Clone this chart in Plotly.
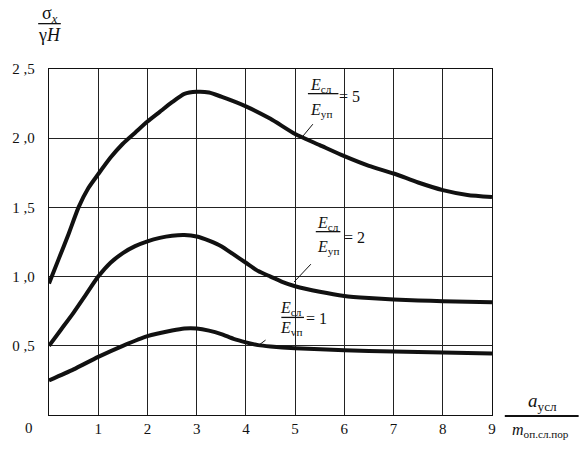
import plotly.graph_objects as go

# ---- data ----
x5 = [0, 0.2, 0.4, 0.6, 0.8, 1.0, 1.25, 1.5, 1.75, 2.0, 2.25, 2.5, 2.75, 3.0, 3.25, 3.5, 4.0, 4.5, 5.0, 5.5, 6.0, 6.5, 7.0, 7.5, 8.0, 8.5, 9.0]
y5 = [0.95, 1.13, 1.31, 1.50, 1.64, 1.74, 1.86, 1.96, 2.04, 2.12, 2.19, 2.26, 2.32, 2.335, 2.33, 2.30, 2.23, 2.14, 2.03, 1.95, 1.87, 1.80, 1.745, 1.68, 1.625, 1.59, 1.575]

x2 = [0, 0.25, 0.5, 0.75, 1.0, 1.25, 1.5, 1.75, 2.0, 2.25, 2.5, 2.75, 3.0, 3.25, 3.5, 3.75, 4.0, 4.25, 4.5, 4.75, 5.0, 5.5, 6.0, 6.5, 7.0, 7.5, 8.0, 8.5, 9.0]
y2 = [0.50, 0.62, 0.74, 0.87, 1.0, 1.10, 1.17, 1.22, 1.255, 1.28, 1.295, 1.30, 1.29, 1.26, 1.22, 1.16, 1.10, 1.04, 1.00, 0.96, 0.93, 0.89, 0.86, 0.845, 0.835, 0.828, 0.822, 0.818, 0.815]

x1 = [0, 0.5, 1.0, 1.5, 2.0, 2.5, 2.75, 3.0, 3.25, 3.5, 3.75, 4.0, 4.25, 4.5, 5.0, 6.0, 7.0, 8.0, 9.0]
y1 = [0.25, 0.33, 0.42, 0.50, 0.57, 0.61, 0.625, 0.625, 0.61, 0.585, 0.55, 0.525, 0.505, 0.495, 0.482, 0.468, 0.458, 0.452, 0.445]

x_ticks = [1, 2, 3, 4, 5, 6, 7, 8, 9]
x_ticktext = ["1", "2", "3", "4", "5", "6", "7", "8", "9"]
y_ticks = [0.5, 1.0, 1.5, 2.0, 2.5]
y_ticktext = ["0 ,5", "1 ,0", "1 ,5", "2 ,0", "2 ,5"]

ratio_labels = ["5", "2", "1"]
den_labels = ["уп", "уп", "vп"]

W, H = 585, 449
# plot area in pixels
L, R, T, B = 42, 492, 69, 420


def px(x):
    return (x - L) / (R - L)


def py(y):
    return (B - y) / (B - T)


SERIF = "'Liberation Serif', 'Times New Roman', Times, 'DejaVu Serif', serif"

fig = go.Figure()
for xs, ys in [(x5, y5), (x2, y2), (x1, y1)]:
    fig.add_trace(go.Scatter(x=xs, y=ys, mode="lines",
                             line=dict(color="#111111", width=4, shape="spline", smoothing=0.6),
                             showlegend=False, hoverinfo="skip"))

annotations = []
shapes = []


def text(s, x, y, size=15, xanchor="center"):
    annotations.append(dict(text=s, x=px(x), y=py(y), xref="paper", yref="paper",
                            showarrow=False, xanchor=xanchor, yanchor="middle",
                            font=dict(family=SERIF, size=size, color="#111111")))


def line(x0, y0, x1, y1, w=1.2):
    shapes.append(dict(type="line", xref="paper", yref="paper",
                       x0=px(x0), y0=py(y0), x1=px(x1), y1=py(y1),
                       line=dict(color="#111111", width=w), layer="above"))


def box(x0, y0, x1, y1):
    shapes.append(dict(type="rect", xref="paper", yref="paper",
                       x0=px(x0), y0=py(y0), x1=px(x1), y1=py(y1),
                       fillcolor="white", line=dict(width=0), layer="between"))


# ratio labels
specs = [
    (318, 86, 305, 336, 94, 111, 347, 97, (310, 125, 300, 137), (303, 74, 362, 122)),
    (325, 226, 313, 338, 234, 250, 352, 240, (308, 267, 291, 285), (305, 214, 368, 264)),
    (288, 312, 278, 301, 321, 332, 314, 322, (262, 344, 254, 350), (272, 299, 346, 344)),
]
for (ncx, ny, bx0, bx1, by, dy, ex, ey, ld, bx), r, d in zip(specs, ratio_labels, den_labels):
    box(*bx)
    text("<i>E</i><sub>сл</sub>", ncx, ny, 16)
    line(bx0, by, bx1, by, 1.3)
    text("<i>E</i><sub>" + d + "</sub>", ncx, dy, 16)
    text("= " + r, ex, ey, 16)
    line(*ld, w=1.0)

# y-axis title fraction
text("σ<sub><i>x</i></sub>", 43, 14, 18)
line(31, 23, 54, 23, 1.3)
text("γ<i>H</i>", 42, 35, 18)

# x-axis title fraction
text("<i>a</i><sub>усл</sub>", 543, 407, 19)
line(505, 421, 580, 421, 1.8)
text("<i>m</i><sub>оп.сл.пор</sub>", 541, 436, 16)

# origin label
text("0", 22, 433, 15)

fig.update_layout(
    width=W, height=H,
    margin=dict(l=L, r=W - R, t=T, b=H - B, pad=0),
    paper_bgcolor="white", plot_bgcolor="white",
    font=dict(family=SERIF, color="#111111"),
    annotations=annotations, shapes=shapes,
    xaxis=dict(range=[0, 9], tickvals=x_ticks, ticktext=x_ticktext,
               showgrid=True, gridcolor="#222222", gridwidth=1.1,
               showline=True, linecolor="#111111", linewidth=1.4, mirror=True,
               ticks="", zeroline=False,
               tickfont=dict(family=SERIF, size=15, color="#111111")),
    yaxis=dict(range=[0, 2.5], tickvals=y_ticks, ticktext=y_ticktext,
               showgrid=True, gridcolor="#222222", gridwidth=1.1,
               showline=True, linecolor="#111111", linewidth=1.4, mirror=True,
               ticks="", zeroline=False, ticklabelstandoff=10,
               tickfont=dict(family=SERIF, size=15, color="#111111")),
)

# remove the browser's default 8 px page margin so the figure fills the window exactly
fig.write_html("out.html", config={"displayModeBar": False},
               post_script="document.body.style.margin='0';")
